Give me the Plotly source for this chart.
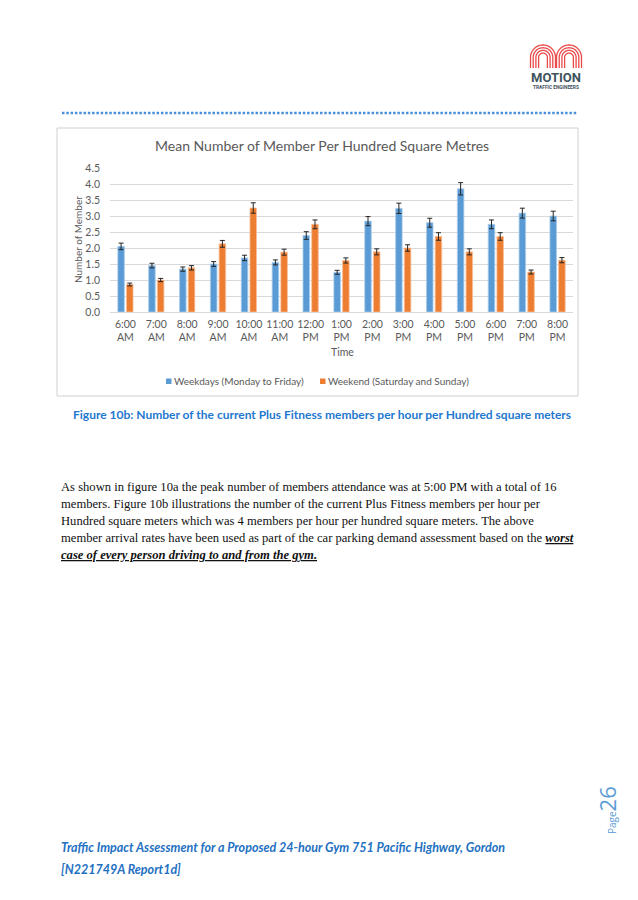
import plotly.graph_objects as go
import math

# ---------------- data ----------------
time_labels = ["6:00<br>AM", "7:00<br>AM", "8:00<br>AM", "9:00<br>AM", "10:00<br>AM",
               "11:00<br>AM", "12:00<br>PM", "1:00<br>PM", "2:00<br>PM", "3:00<br>PM",
               "4:00<br>PM", "5:00<br>PM", "6:00<br>PM", "7:00<br>PM", "8:00<br>PM"]
weekdays = [2.05, 1.45, 1.34, 1.50, 1.69, 1.55, 2.39, 1.24, 2.84, 3.24, 2.79, 3.85, 2.74, 3.09, 3.00]
weekend = [0.86, 1.00, 1.38, 2.13, 3.25, 1.87, 2.74, 1.61, 1.88, 2.00, 2.36, 1.88, 2.36, 1.25, 1.62]
error_percent = 5
y_ticks = [0.0, 0.5, 1.0, 1.5, 2.0, 2.5, 3.0, 3.5, 4.0, 4.5]

series_names = ["Weekdays (Monday to Friday)", "Weekend (Saturday and Sunday)"]
chart_title = "Mean Number of Member Per Hundred Square Metres"
y_title = "Number of Member"
x_title = "Time"
caption = "Figure 10b: Number of the current Plus Fitness members per hour per Hundred square meters"
para_lines = [
    "As shown in figure 10a the peak number of members attendance was at 5:00 PM with a total of 16",
    "members. Figure 10b illustrations the number of the current Plus Fitness members per hour per",
    "Hundred square meters which was 4 members per hour per hundred square meters. The above",
    "member arrival rates have been used as part of the car parking demand assessment based on the <b><i><u>worst</u></i></b>",
    "<b><i><u>case of every person driving to and from the gym.</u></i></b>",
]
footer_lines = [
    "Traffic Impact Assessment for a Proposed 24-hour Gym 751 Pacific Highway, Gordon",
    "[N221749A Report1d]",
]

# ---------------- geometry (page pixels) ----------------
OFF = 8                      # default body margin of the html page
W, H = 638 - 2 * OFF, 900 - 2 * OFF
PL, PR, PT, PB = 110, 573, 168, 312   # plot area in page pixels


def px(x):
    return (x - PL) / (PR - PL)


def py(y):
    return (PB - y) / (PB - PT)


BLUE = "#5B9BD5"
ORANGE = "#ED7D31"
GREY = "#595959"
CAP_BLUE = "#1F78CF"
CHART_FONT = "Lato"

fig = go.Figure()
fig.add_trace(go.Bar(
    x=time_labels, y=weekdays, name=series_names[0],
    marker=dict(color=BLUE, line=dict(color="#A9CBEA", width=0.8)),
    error_y=dict(type="percent", value=error_percent, color="#262626", thickness=1, width=2.5),
))
fig.add_trace(go.Bar(
    x=time_labels, y=weekend, name=series_names[1],
    marker=dict(color=ORANGE, line=dict(color="#F6BE98", width=0.8)),
    error_y=dict(type="percent", value=error_percent, color="#262626", thickness=1, width=2.5),
))

fig.update_layout(
    width=W, height=H,
    margin=dict(l=PL - OFF, r=W - (PR - OFF), t=PT - OFF, b=H - (PB - OFF), pad=0, autoexpand=False),
    paper_bgcolor="white", plot_bgcolor="white",
    barmode="group", bargap=0.436, bargroupgap=0.25,
    showlegend=False,
    font=dict(family=CHART_FONT, size=10, color=GREY),
)
fig.update_xaxes(
    showgrid=False, showline=True, linecolor="#D9D9D9", linewidth=1,
    tickfont=dict(family=CHART_FONT, size=10.5, color=GREY), ticklabelstandoff=2,
    fixedrange=True,
)
fig.update_yaxes(
    range=[0, 4.5], tickvals=y_ticks, tickformat=".1f",
    showgrid=True, gridcolor="#D9D9D9", gridwidth=1, zeroline=False,
    tickfont=dict(family=CHART_FONT, size=10.5, color=GREY), ticklabelstandoff=9,
    fixedrange=True,
)

ann = []
# chart title, axis titles
ann.append(dict(text=chart_title, x=px(321.5), y=py(145), xanchor="center", yanchor="middle",
                font=dict(family=CHART_FONT, size=14, color=GREY)))
ann.append(dict(text=y_title, x=px(78), y=py(240), xanchor="center", yanchor="middle", textangle=-90,
                font=dict(family=CHART_FONT, size=10, color=GREY)))
ann.append(dict(text=x_title, x=px(342), y=py(352), xanchor="center", yanchor="middle",
                font=dict(family=CHART_FONT, size=10.5, color=GREY)))
# legend (manual)
ann.append(dict(text=series_names[0], x=px(172), y=py(381), xanchor="left", yanchor="middle",
                font=dict(family=CHART_FONT, size=10, color=GREY)))
ann.append(dict(text=series_names[1], x=px(326), y=py(381), xanchor="left", yanchor="middle",
                font=dict(family=CHART_FONT, size=10, color=GREY)))
# caption
ann.append(dict(text="<b>" + caption + "</b>", x=px(322), y=py(414), xanchor="center", yanchor="middle",
                font=dict(family=CHART_FONT, size=12, color=CAP_BLUE)))
# paragraph
for i, line in enumerate(para_lines):
    ann.append(dict(text=line, x=px(59), y=py(487 + 17 * i), xanchor="left", yanchor="middle",
                    font=dict(family="Liberation Serif", size=12.6, color="#111111")))
# footer
for i, line in enumerate(footer_lines):
    ann.append(dict(text="<b><i>" + line + "</i></b>", x=px(59), y=py(847 + 22 * i), xanchor="left",
                    yanchor="middle", font=dict(family=CHART_FONT, size=12.5, color="#2370C2")))
# page number
ann.append(dict(text="<span style='font-size:10px'>Page</span>26", x=px(607), y=py(810),
                xanchor="center", yanchor="middle", textangle=-90,
                font=dict(family="Open Sans", size=22, color="#5B9BD5")))
# logo text
ann.append(dict(text="<b>MOTION</b>", x=px(556), y=py(77), xanchor="center", yanchor="middle",
                font=dict(family="Roboto", size=13, color="#3E525E")))
ann.append(dict(text="<b>TRAFFIC ENGINEERS</b>", x=px(556), y=py(87), xanchor="center", yanchor="middle",
                font=dict(family="Roboto", size=4.8, color="#3E525E")))

for a in ann:
    a.update(xref="paper", yref="paper", showarrow=False)
fig.update_layout(annotations=ann)

shapes = []
# chart border
shapes.append(dict(type="rect", xref="paper", yref="paper", x0=px(57), x1=px(578), y0=py(128), y1=py(396),
                   line=dict(color="#D0D0D0", width=1), layer="below"))
# dotted header rule
shapes.append(dict(type="line", xref="paper", yref="paper", x0=px(62), x1=px(578), y0=py(113), y1=py(113),
                   line=dict(color="#4A90D9", width=2.5, dash="2.5px,1.8px")))
# legend markers
for x0, col in [(166, BLUE), (320, ORANGE)]:
    shapes.append(dict(type="rect", xref="paper", yref="paper", x0=px(x0), x1=px(x0 + 5.5),
                       y0=py(378.5), y1=py(384), line=dict(width=0), fillcolor=col))
# logo arches
for cx in (543, 569):
    for r in (12.5, 9.8, 7.1, 4.4):
        cy, bottom = 57.5, 68
        pts = [(cx - r, bottom), (cx - r, cy)]
        for k in range(1, 24):
            t = math.pi - math.pi * k / 24
            pts.append((cx + r * math.cos(t), cy - r * math.sin(t)))
        pts += [(cx + r, cy), (cx + r, bottom)]
        path = "M " + " L ".join(f"{px(x):.5f},{py(y):.5f}" for x, y in pts)
        shapes.append(dict(type="path", xref="paper", yref="paper", path=path,
                           line=dict(color="#E94B4B", width=1.3)))
fig.update_layout(shapes=shapes)

fig.write_html("out.html")
